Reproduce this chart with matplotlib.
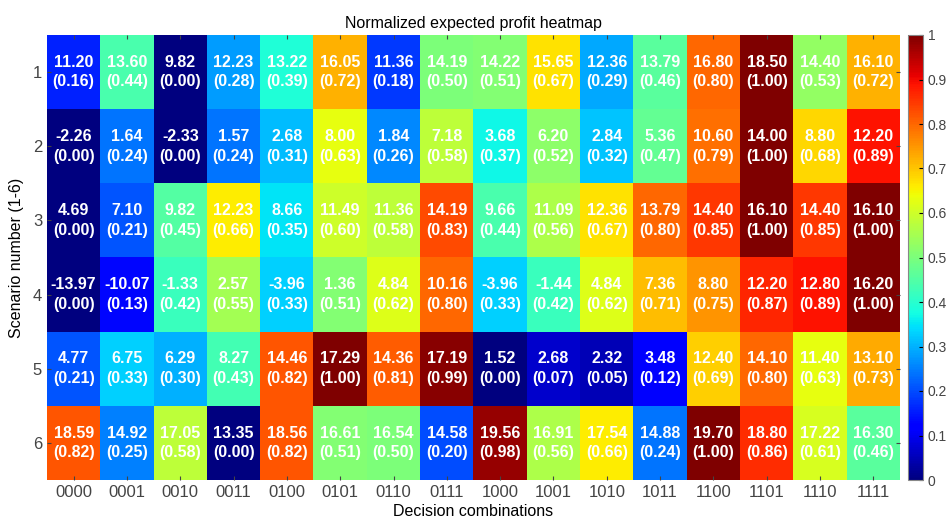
import numpy as np
import matplotlib
matplotlib.use('Agg')
import matplotlib.pyplot as plt

plt.rcParams['font.family'] = ['Liberation Sans', 'DejaVu Sans']

# 决策组合 (x) 与情景编号 (y)
decisions = ['0000', '0001', '0010', '0011', '0100', '0101', '0110', '0111',
             '1000', '1001', '1010', '1011', '1100', '1101', '1110', '1111']
scenarios = ['1', '2', '3', '4', '5', '6']

# 每个情景下的期望利润
profit = np.array([
    [11.20, 13.60, 9.82, 12.23, 13.22, 16.05, 11.36, 14.19, 14.22, 15.65, 12.36, 13.79, 16.80, 18.50, 14.40, 16.10],
    [-2.26, 1.64, -2.33, 1.57, 2.68, 8.00, 1.84, 7.18, 3.68, 6.20, 2.84, 5.36, 10.60, 14.00, 8.80, 12.20],
    [4.69, 7.10, 9.82, 12.23, 8.66, 11.49, 11.36, 14.19, 9.66, 11.09, 12.36, 13.79, 14.40, 16.10, 14.40, 16.10],
    [-13.97, -10.07, -1.33, 2.57, -3.96, 1.36, 4.84, 10.16, -3.96, -1.44, 4.84, 7.36, 8.80, 12.20, 12.80, 16.20],
    [4.77, 6.75, 6.29, 8.27, 14.46, 17.29, 14.36, 17.19, 1.52, 2.68, 2.32, 3.48, 12.40, 14.10, 11.40, 13.10],
    [18.59, 14.92, 17.05, 13.35, 18.56, 16.61, 16.54, 14.58, 19.56, 16.91, 17.54, 14.88, 19.70, 18.80, 17.22, 16.30],
])

# 行内归一化后的利润
norm = np.array([
    [0.16, 0.44, 0.00, 0.28, 0.39, 0.72, 0.18, 0.50, 0.51, 0.67, 0.29, 0.46, 0.80, 1.00, 0.53, 0.72],
    [0.00, 0.24, 0.00, 0.24, 0.31, 0.63, 0.26, 0.58, 0.37, 0.52, 0.32, 0.47, 0.79, 1.00, 0.68, 0.89],
    [0.00, 0.21, 0.45, 0.66, 0.35, 0.60, 0.58, 0.83, 0.44, 0.56, 0.67, 0.80, 0.85, 1.00, 0.85, 1.00],
    [0.00, 0.13, 0.42, 0.55, 0.33, 0.51, 0.62, 0.80, 0.33, 0.42, 0.62, 0.71, 0.75, 0.87, 0.89, 1.00],
    [0.21, 0.33, 0.30, 0.43, 0.82, 1.00, 0.81, 0.99, 0.00, 0.07, 0.05, 0.12, 0.69, 0.80, 0.63, 0.73],
    [0.82, 0.25, 0.58, 0.00, 0.82, 0.51, 0.50, 0.20, 0.98, 0.56, 0.66, 0.24, 1.00, 0.86, 0.61, 0.46],
])

fig = plt.figure(figsize=(9.5, 5.27), dpi=100)
W, H = 950, 527
ax = fig.add_axes([47 / W, 1 - 480 / H, 853 / W, 445 / H])
cax = fig.add_axes([908 / W, 1 - 480 / H, 15 / W, 445 / H])

im = ax.imshow(norm, cmap='jet', vmin=0, vmax=1, aspect='auto', interpolation='nearest')

for i in range(len(scenarios)):
    for j in range(len(decisions)):
        ax.text(j, i, f'{profit[i, j]:.2f}\n({norm[i, j]:.2f})',
                ha='center', va='center', color='white', fontsize=11.5,
                fontweight='bold', linespacing=1.4)

ax.set_xticks(range(len(decisions)))
ax.set_xticklabels(decisions)
ax.set_yticks(range(len(scenarios)))
ax.set_yticklabels(scenarios)
ax.tick_params(direction='in', top=True, right=True, length=3,
               labelsize=12, labelcolor='#444444', color='#444444')
for s in ax.spines.values():
    s.set_visible(False)

ax.set_title('Normalized expected profit heatmap', fontsize=11.5, pad=5)
ax.set_xlabel('Decision combinations', fontsize=11.5, labelpad=3)
ax.set_ylabel('Scenario number (1-6)', fontsize=11.5, labelpad=6)

cb = fig.colorbar(im, cax=cax)
cb.set_ticks(np.arange(0, 1.01, 0.1))
cb.set_ticklabels(['0', '0.1', '0.2', '0.3', '0.4', '0.5', '0.6', '0.7', '0.8', '0.9', '1'])
cb.ax.tick_params(direction='in', length=3, labelsize=10, labelcolor='#444444')
cb.outline.set_edgecolor('#888888')

fig.savefig('out.png', dpi=100)
